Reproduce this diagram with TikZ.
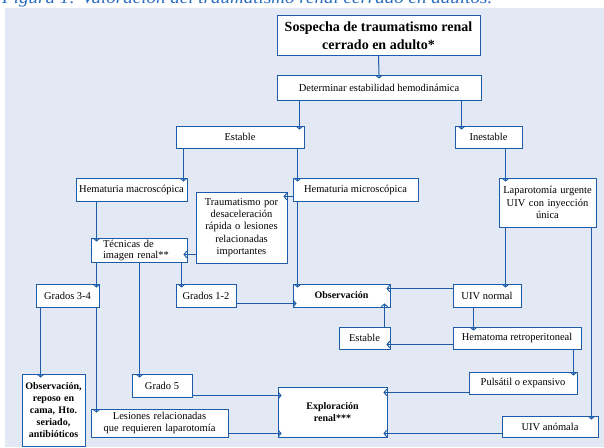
\documentclass[tikz,border=0pt]{standalone}
\usepackage{fontspec}
\setmainfont{Liberation Serif}
\usetikzlibrary{arrows.meta,calc}

\definecolor{lineblue}{HTML}{1D5CA8}
\definecolor{panelblue}{HTML}{E2E9F5}
\definecolor{titleblue}{HTML}{2A6CC0}

\tikzset{
  box/.style={draw=lineblue, fill=white, line width=0.9pt, inner sep=0pt,
    align=center, font=\fontsize{10.5}{12.4}\selectfont},
  boldbox/.style={box, font=\bfseries\fontsize{10}{12}\selectfont},
  arr/.style={draw=lineblue, line width=1pt,
    -{Straight Barb[length=2.6pt,width=6.5pt,line width=1pt]}, shorten >=-4pt},
}

\begin{document}
\begin{tikzpicture}[x=1pt, y=-1pt]
\useasboundingbox (0,0) rectangle (604,447);
\begin{scope}
\clip (0,0) rectangle (604,447);
% background panel and caption line
\fill[panelblue] (5,8) rectangle (604,447);
\node[anchor=base west, inner sep=0pt, text=titleblue,
  font=\itshape\fontsize{17}{17}\selectfont] (title) at (2,3)
  {\scalebox{1.12}[1]{Figura 1: Valoración del traumatismo renal cerrado en adultos.}};
\end{scope}

% boxes
\node[box, minimum width=203pt, minimum height=40pt,
  font=\bfseries\fontsize{14}{17.5}\selectfont] (sosp) at (378.5,35.5)
  {Sospecha de traumatismo renal\\cerrado en adulto*};
\node[box, minimum width=204pt, minimum height=25pt] (det) at (379,87.5)
  {Determinar estabilidad hemodinámica};
\node[box, minimum width=128pt, minimum height=22pt] (est1) at (240,137) {Estable};
\node[box, minimum width=67pt, minimum height=22pt] (inest) at (488.5,137) {Inestable};
\node[box, minimum width=111pt, minimum height=23pt] (hmac) at (131.5,189.5) {Hematuria macroscópica};
\node[box, minimum width=125pt, minimum height=23pt] (hmic) at (355.5,189.5) {Hematuria microscópica};
\node[box, text width=91pt, minimum height=71pt] (trauma) at (241.5,227.5)
  {Traumatismo por\\desaceleración\\rápida o lesiones\\relacionadas\\importantes};
\node[box, text width=72pt, inner xsep=12pt, align=left, minimum height=24pt,
  font=\fontsize{10.5}{11}\selectfont] (tec) at (139,250)
  {Técnicas de\\imagen renal**};
\node[box, text width=97pt, minimum height=49pt] (lap) at (547.5,202.5)
  {Laparotomía urgente\\UIV con inyección\\única};
\node[box, minimum width=63pt, minimum height=23pt] (g34) at (67.5,295.5) {Grados 3-4};
\node[box, minimum width=60pt, minimum height=23pt] (g12) at (206,295.5) {Grados 1-2};
\node[boldbox, minimum width=97pt, minimum height=23pt] (obs) at (341.5,295.5) {Observación};
\node[box, minimum width=68pt, minimum height=23pt] (uivn) at (487,295.5) {UIV normal};
\node[box, minimum width=51pt, minimum height=22pt] (est2) at (364.5,338) {Estable};
\node[box, minimum width=128pt, minimum height=22pt] (hema) at (517,338) {Hematoma retroperitoneal};
\node[box, minimum width=108pt, minimum height=22pt] (puls) at (523,383) {Pulsátil o expansivo};
\node[boldbox, text width=109pt, minimum height=50pt,
  font=\bfseries\fontsize{10}{11.5}\selectfont] (expl) at (332.5,412)
  {Exploración\\renal***};
\node[box, minimum width=96pt, minimum height=21pt] (uiva) at (550,426.5) {UIV anómala};
\node[box, minimum width=60pt, minimum height=23pt] (g5) at (162,385.5) {Grado 5};
\node[box, text width=137pt, minimum height=28pt,
  font=\fontsize{10.5}{12}\selectfont] (les) at (159.5,423)
  {Lesiones relacionadas\\que requieren laparotomía};
\node[boldbox, text width=63pt, minimum height=72pt,
  font=\bfseries\fontsize{10}{12.2}\selectfont] (obsr) at (53.5,410)
  {Observación,\\reposo en\\cama, Hto.\\seriado,\\antibióticos};

% connectors
\draw[arr] (sosp.south) -- (det.north);
\draw[arr] ([xshift=-5pt]est1.north east |- det.south) -- ([xshift=-5pt]est1.north east);
\draw[arr] ([xshift=7pt]inest.north west |- det.south) -- ([xshift=7pt]inest.north west);
\draw[arr] ([xshift=-4pt]hmac.north east |- est1.south) -- ([xshift=-4pt]hmac.north east);
\draw[arr] ([xshift=5pt]hmic.north west |- est1.south) -- ([xshift=5pt]hmic.north west);
\draw[arr] ([yshift=-5pt]trauma.north east -| hmic.west) -- ([yshift=-5pt]trauma.north east);
\draw[arr] ([xshift=6pt]tec.north west |- hmac.south) -- ([xshift=6pt]tec.north west);
\draw[arr] ([yshift=8pt]tec.south east -| trauma.west) -- ([yshift=8pt]tec.south east);
\draw[arr] ([xshift=-3pt]g34.north east |- tec.south) -- ([xshift=-3pt]g34.north east);
\draw[arr] ([xshift=8pt]g5.north west |- tec.south) -- ([xshift=8pt]g5.north west);
\draw[arr] ([xshift=6pt]g12.north west |- tec.south) -- ([xshift=6pt]g12.north west);
\draw[arr] ([xshift=5pt]obs.north west |- hmic.south) -- ([xshift=5pt]obs.north west);
\draw[arr] ([yshift=4pt]g12.south east) -- ([yshift=4pt]g12.south east -| obs.west);
\draw[arr] ([yshift=-5pt]uivn.north west) -- ([yshift=-5pt]uivn.north west -| obs.east);
\draw[arr] ([xshift=7pt]lap.north west |- inest.south) -- ([xshift=7pt]lap.north west);
\draw[arr] ([xshift=7pt]lap.south west) -- ([xshift=7pt]lap.south west |- uivn.north);
\draw[arr] ([xshift=-5pt]lap.south east) -- ([xshift=-5pt]lap.south east |- uiva.north);
\draw[arr] ([xshift=21pt]uivn.south west) -- ([xshift=21pt]uivn.south west |- hema.north);
\draw[arr] ([yshift=5pt]hema.south west) -- ([yshift=5pt]hema.south west -| est2.east);
\draw[arr] ([xshift=-6pt]est2.north east) -- ([xshift=-6pt]est2.north east |- obs.south);
\draw[arr] ([xshift=-8pt]hema.south east) -- ([xshift=-8pt]hema.south east |- puls.north);
\draw[arr] ([yshift=2pt]puls.south west) -- ([yshift=2pt]puls.south west -| expl.east);
\draw[arr] ([yshift=4pt]uiva.south west) -- ([yshift=4pt]uiva.south west -| expl.east);
\draw[arr] ([yshift=2pt]g5.south east) -- ([yshift=2pt]g5.south east -| expl.west);
\draw[arr] ([yshift=4pt]les.south east) -- ([yshift=4pt]les.south east -| expl.west);
\draw[arr] ([xshift=5pt]g34.south west) -- ([xshift=5pt]g34.south west |- obsr.north);
\draw[arr] ([xshift=-3pt]g34.south east) -- ([xshift=-3pt]g34.south east |- les.north);
\end{tikzpicture}
\end{document}
